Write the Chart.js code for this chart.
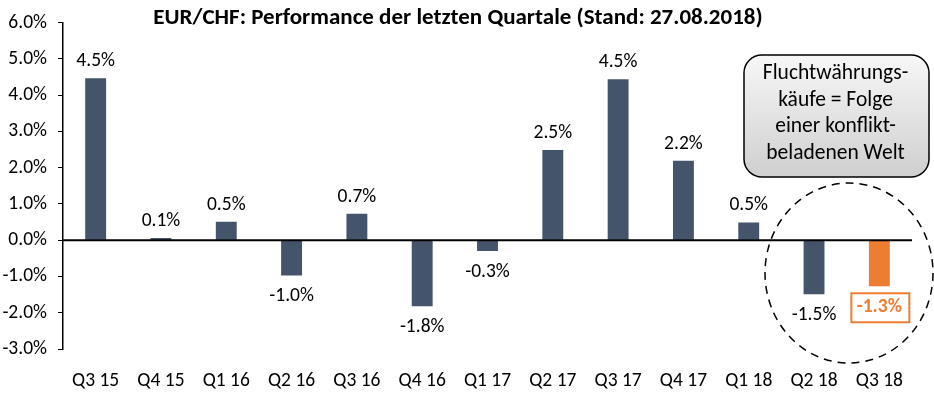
<!DOCTYPE html>
<html>
<head>
<meta charset="utf-8">
<script src="https://cdn.jsdelivr.net/npm/chart.js@4"></script>
<style>
  html, body { margin: 0; padding: 0; background: #fff; }
  #wrap { width: 934px; height: 397px; }
</style>
</head>
<body>
<div id="wrap"><canvas id="chart" width="934" height="397"></canvas></div>
<script>
// Quartale und Performance EUR/CHF in %
const quarters = ['Q3 15', 'Q4 15', 'Q1 16', 'Q2 16', 'Q3 16', 'Q4 16', 'Q1 17', 'Q2 17', 'Q3 17', 'Q4 17', 'Q1 18', 'Q2 18', 'Q3 18'];
const performance = [4.47, 0.06, 0.51, -0.97, 0.73, -1.82, -0.3, 2.49, 4.44, 2.19, 0.49, -1.49, -1.27];
const valueLabels = ['4.5%', '0.1%', '0.5%', '-1.0%', '0.7%', '-1.8%', '-0.3%', '2.5%', '4.5%', '2.2%', '0.5%', '-1.5%', '-1.3%'];
const yTicks = [-3, -2, -1, 0, 1, 2, 3, 4, 5, 6];
const titleText = 'EUR/CHF: Performance der letzten Quartale (Stand: 27.08.2018)';
const noteLines = ['Fluchtwährungs-', 'käufe = Folge', 'einer konflikt-', 'beladenen Welt'];

const FONT = 'Carlito, Calibri, Lato, sans-serif';
const DARK = '#44546A';
const ORANGE = '#ED7D31';

const barColors = quarters.map((q, i) => i === quarters.length - 1 ? ORANGE : DARK);

// Nulllinie, Werte, Titel, Hinweisbox und Kreis
const extras = {
    id: 'extras',
    afterDatasetsDraw(chart) {
        const ctx = chart.ctx;
        const area = chart.chartArea;
        const y = chart.scales.y;
        const meta = chart.getDatasetMeta(0);

        // zero line
        const y0 = y.getPixelForValue(0);
        ctx.save();
        ctx.strokeStyle = '#000';
        ctx.lineWidth = 2;
        ctx.beginPath();
        ctx.moveTo(area.left, y0);
        ctx.lineTo(area.right, y0);
        ctx.stroke();

        // value labels
        ctx.textAlign = 'center';
        ctx.textBaseline = 'middle';
        meta.data.forEach((bar, i) => {
            const v = performance[i];
            const last = i === quarters.length - 1;
            const ly = v >= 0 ? bar.y - 17 : bar.y + 21;
            ctx.font = (last ? 'bold ' : '') + '19.5px ' + FONT;
            ctx.fillStyle = last ? ORANGE : '#000';
            ctx.fillText(valueLabels[i], bar.x, ly);
            if (last) {
                const w = 58;
                ctx.strokeStyle = ORANGE;
                ctx.lineWidth = 2;
                ctx.strokeRect(bar.x - w / 2 + 1, ly - 14, w, 29);
            }
        });

        // title
        ctx.font = 'bold 23px ' + FONT;
        ctx.fillStyle = '#000';
        ctx.fillText(titleText, 458, 18);

        // note box
        const bx = 744, by = 55, bw = 185, bh = 122, r = 18;
        const grad = ctx.createLinearGradient(0, by, 0, by + bh);
        grad.addColorStop(0, '#f7f7f7');
        grad.addColorStop(1, '#cfcfcf');
        ctx.beginPath();
        ctx.roundRect(bx, by, bw, bh, r);
        ctx.fillStyle = grad;
        ctx.fill();
        ctx.strokeStyle = '#000';
        ctx.lineWidth = 1.5;
        ctx.stroke();
        ctx.font = '21.5px ' + FONT;
        ctx.fillStyle = '#000';
        noteLines.forEach((t, i) => ctx.fillText(t, bx + bw / 2 - 1, by + 19 + i * 26.5));

        // dashed ellipse
        ctx.beginPath();
        ctx.setLineDash([8, 6]);
        ctx.lineWidth = 1.5;
        ctx.ellipse(849, 273, 84, 90, 0, 0, Math.PI * 2);
        ctx.stroke();
        ctx.restore();
    }
};

new Chart(document.getElementById('chart'), {
    type: 'bar',
    data: {
        labels: quarters,
        datasets: [{
            data: performance,
            backgroundColor: barColors,
            barPercentage: 0.32,
            categoryPercentage: 1
        }]
    },
    options: {
        responsive: false,
        animation: false,
        devicePixelRatio: 1,
        layout: { padding: { top: 17, right: 22, left: 0, bottom: 0 } },
        plugins: { legend: { display: false }, tooltip: { enabled: false }, title: { display: false } },
        scales: {
            x: {
                grid: { display: false },
                border: { display: false },
                ticks: { color: '#000', font: { family: FONT, size: 19.5 }, padding: 12, maxRotation: 0 },
                afterFit(s) { s.height = 48; }
            },
            y: {
                min: -3,
                max: 6,
                afterBuildTicks(s) { s.ticks = yTicks.map(v => ({ value: v })); },
                grid: { drawOnChartArea: false, drawTicks: true, tickLength: 5, color: '#000' },
                border: { display: true, color: '#000', width: 1.5 },
                ticks: {
                    color: '#000',
                    font: { family: FONT, size: 19.5 },
                    padding: 11,
                    callback: v => v.toFixed(1) + '%'
                },
                afterFit(s) { s.width = 63; }
            }
        }
    },
    plugins: [extras]
});
</script>
</body>
</html>
